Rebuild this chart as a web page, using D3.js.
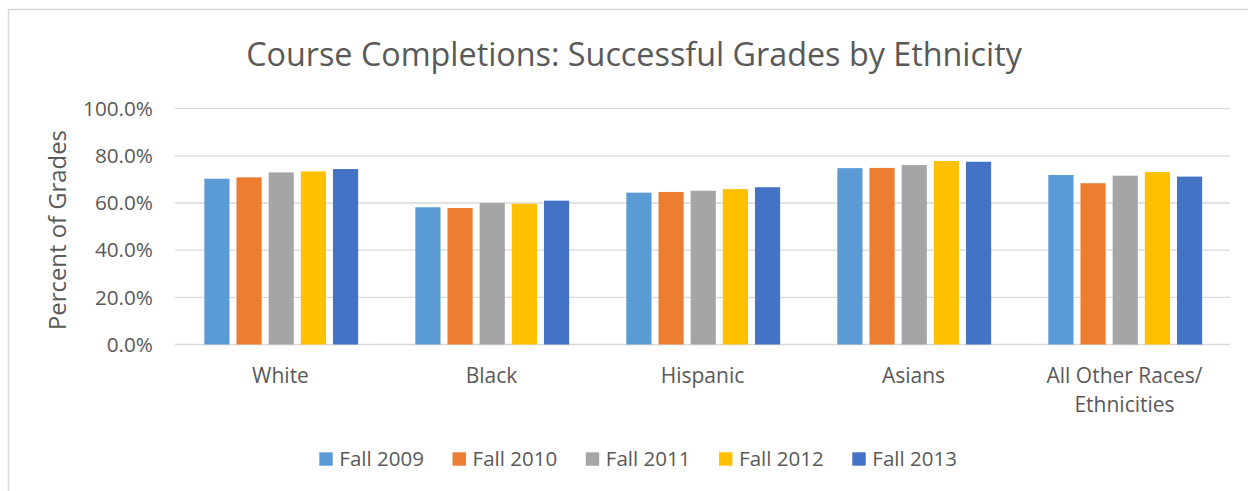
<!DOCTYPE html>
<html>
<head>
<meta charset="utf-8">
<script src="https://cdn.jsdelivr.net/npm/d3@7"></script>
<style>
  html, body { margin: 0; padding: 0; background: #fff; }
  svg { display: block; }
  text { font-family: "Open Sans", "Noto Sans", sans-serif; fill: #595959; }
</style>
</head>
<body>
<svg id="chart" width="1248" height="491"></svg>
<script>
const categories = ["White", "Black", "Hispanic", "Asians", "All Other Races/\nEthnicities"];
const seriesNames = ["Fall 2009", "Fall 2010", "Fall 2011", "Fall 2012", "Fall 2013"];
const fall2009 = [0.703, 0.582, 0.644, 0.748, 0.719];
const fall2010 = [0.709, 0.579, 0.647, 0.749, 0.684];
const fall2011 = [0.730, 0.600, 0.652, 0.761, 0.716];
const fall2012 = [0.734, 0.597, 0.659, 0.778, 0.731];
const fall2013 = [0.744, 0.610, 0.667, 0.775, 0.712];
const yTicks = [0, 0.2, 0.4, 0.6, 0.8, 1.0];
const colors = ["#5B9BD5", "#ED7D31", "#A5A5A5", "#FFC000", "#4472C4"];

const seriesValues = [fall2009, fall2010, fall2011, fall2012, fall2013];
const svg = d3.select("#chart");

// helper: fit text to a target width by adjusting font size
function fitFont(sel, targetWidth) {
  sel.style("font-size", "20px");
  const w = sel.node().getComputedTextLength();
  const fs = 20 * targetWidth / w;
  sel.style("font-size", fs + "px");
  return fs;
}

// chart border (only top/left visible in reference)
svg.append("rect")
  .attr("x", 8.5).attr("y", 9.5)
  .attr("width", 1260).attr("height", 500)
  .attr("fill", "none").attr("stroke", "#D9D9D9").attr("stroke-width", 1.5);

const plotLeft = 175, plotRight = 1230;
const y = d3.scaleLinear().domain([0, 1]).range([344.5, 108.7]);
const x0 = d3.scaleBand().domain(categories).range([plotLeft, plotRight]).padding(0);
const bw0 = x0.bandwidth();
const x1 = d3.scaleBand().domain(seriesNames)
  .range([bw0 * 0.139, bw0 * 0.868]).paddingInner(0.217).paddingOuter(0);

// gridlines
svg.append("g").selectAll("line").data(yTicks).join("line")
  .attr("x1", plotLeft).attr("x2", plotRight)
  .attr("y1", d => y(d)).attr("y2", d => y(d))
  .attr("stroke", "#D9D9D9").attr("stroke-width", 1.3);

// y tick labels
const yAxisG = svg.append("g");
const yLabels = yAxisG.selectAll("text").data(yTicks).join("text")
  .attr("x", 153).attr("y", d => y(d))
  .attr("dy", "0.35em")
  .attr("text-anchor", "end")
  .text(d => d3.format(".1%")(d));
const tickFs = fitFont(yLabels.filter(d => d === 1), 70);
yLabels.style("font-size", tickFs + "px");

// bars
const groups = svg.append("g").selectAll("g").data(categories).join("g")
  .attr("transform", d => `translate(${x0(d)},0)`);
groups.selectAll("rect")
  .data((c, ci) => seriesNames.map((s, si) => ({ s, si, v: seriesValues[si][ci] })))
  .join("rect")
  .attr("x", d => x1(d.s))
  .attr("width", x1.bandwidth())
  .attr("y", d => y(d.v))
  .attr("height", d => y(0) - y(d.v))
  .attr("fill", d => colors[d.si]);

// category labels
const catG = svg.append("g");
const catTexts = catG.selectAll("text").data(categories).join("text")
  .attr("text-anchor", "middle")
  .attr("x", d => x0(d) + bw0 / 2)
  .attr("y", 383);
catTexts.each(function(d) {
  const lines = d.split("\n");
  d3.select(this).selectAll("tspan").data(lines).join("tspan")
    .attr("x", x0(d) + bw0 / 2)
    .attr("dy", (l, i) => i === 0 ? 0 : 29)
    .text(l => l);
});
{
  const probe = svg.append("text").text("All Other Races/");
  const fs = fitFont(probe, 156);
  probe.remove();
  catTexts.style("font-size", fs + "px");
}

// title
const title = svg.append("text")
  .attr("x", 634).attr("y", 66)
  .attr("text-anchor", "middle")
  .text("Course Completions: Successful Grades by Ethnicity");
fitFont(title, 776);

// y-axis title
const yTitle = svg.append("text")
  .attr("transform", "translate(66,230) rotate(-90)")
  .attr("text-anchor", "middle")
  .text("Percent of Grades");
fitFont(yTitle, 200);

// legend
const legendX = d3.scalePoint().domain(seriesNames).range([319.3, 852.3]);
const leg = svg.append("g").selectAll("g").data(seriesNames).join("g")
  .attr("transform", d => `translate(${legendX(d)},0)`);
leg.append("rect")
  .attr("x", 0).attr("y", 452.3).attr("width", 13.4).attr("height", 13.4)
  .attr("fill", (d, i) => colors[i]);
const legTexts = leg.append("text")
  .attr("x", 20).attr("y", 465.7)
  .text(d => d);
{
  const fs = fitFont(legTexts.filter((d, i) => i === 0), 84.7);
  legTexts.style("font-size", fs + "px");
}
</script>
</body>
</html>
